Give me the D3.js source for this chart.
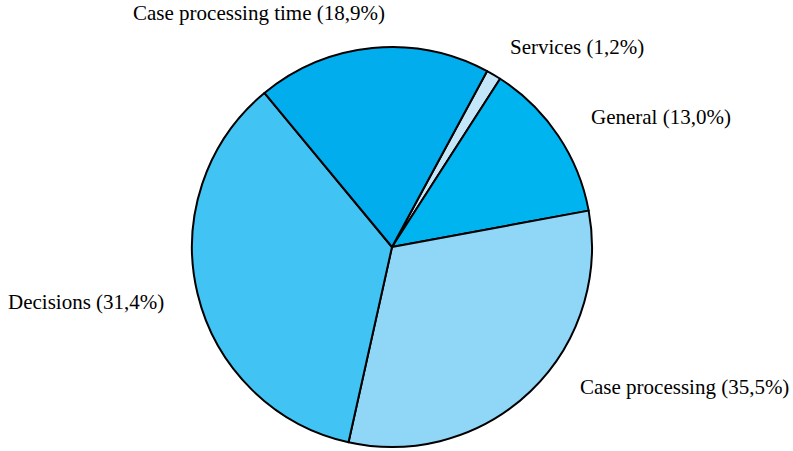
<!DOCTYPE html>
<html>
<head>
<meta charset="utf-8">
<script src="https://cdn.jsdelivr.net/npm/d3@7"></script>
<style>
  body { margin: 0; background: #fff; }
  svg { display: block; }
  .label { font-family: "Liberation Serif", "Times New Roman", serif; font-size: 21px; fill: #000; }
</style>
</head>
<body>
<script>
// slices clockwise, starting with Services near the top
const categories = ["Services", "General", "Case processing", "Decisions", "Case processing time"];
const labelShares = ["1,2", "13,0", "35,5", "31,4", "18,9"];
// slice sizes as they are drawn in the picture (the two big ones are swapped vs. their labels)
const sliceValues = [1.2, 13.0, 31.4, 35.5, 18.9];
const colors = ["#c3e7f9", "#00b5ef", "#8fd6f7", "#41c4f4", "#02aded"];

const width = 793;
const height = 451;
const cx = 392, cy = 247, radius = 200;

// label text anchor points (left edge, baseline)
const labelAt = [[510, 54], [591, 124], [580, 394], [8, 309], [133, 20]];

const svg = d3.select("body").append("svg")
  .attr("width", width)
  .attr("height", height);

const pie = d3.pie()
  .sort(null)
  .value((d) => d)
  .startAngle(28.4 * Math.PI / 180)
  .endAngle(28.4 * Math.PI / 180 + 2 * Math.PI);

const arc = d3.arc()
  .innerRadius(0)
  .outerRadius(radius);

const g = svg.append("g")
  .attr("transform", `translate(${ cx }, ${ cy })`);

g.selectAll("path")
  .data(pie(sliceValues))
  .enter().append("path")
  .attr("d", arc)
  .attr("fill", (d, i) => colors[i])
  .attr("stroke", "#000")
  .attr("stroke-width", 2)
  .attr("stroke-linejoin", "round");

svg.append("g")
  .selectAll("text")
  .data(categories)
  .enter().append("text")
  .attr("class", "label")
  .attr("x", (d, i) => labelAt[i][0])
  .attr("y", (d, i) => labelAt[i][1])
  .text((d, i) => `${ d } (${ labelShares[i] }%)`);
</script>
</body>
</html>
